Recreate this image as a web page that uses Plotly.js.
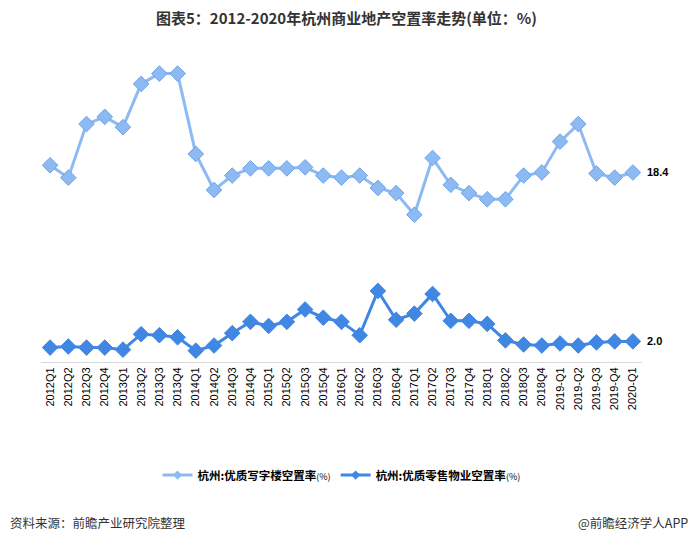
<!DOCTYPE html>
<html>
<head>
<meta charset="utf-8">
<script src="https://cdn.plot.ly/plotly-3.0.1.min.js"></script>
<style>html,body{margin:0;padding:0;background:#fff;}#chart{width:693px;height:546px;}</style>
</head>
<body>
<div id="chart"></div>
<script>
var quarters = ["2012Q1","2012Q2","2012Q3","2012Q4","2013Q1","2013Q2","2013Q3","2013Q4",
  "2014Q1","2014Q2","2014Q3","2014Q4","2015Q1","2015Q2","2015Q3","2015Q4",
  "2016Q1","2016Q2","2016Q3","2016Q4","2017Q1","2017Q2","2017Q3","2017Q4",
  "2018Q1","2018Q2","2018Q3","2018Q4","2019-Q1","2019-Q2","2019-Q3","2019-Q4","2020-Q1"];
var officeVacancy = [19.1,17.9,23.1,23.8,22.8,27.0,28.0,28.0,
  20.2,16.7,18.1,18.8,18.8,18.8,18.9,18.1,
  17.9,18.1,16.9,16.4,14.3,19.8,17.2,16.4,
  15.8,15.8,18.1,18.4,21.4,23.1,18.3,17.9,18.4];
var retailVacancy = [1.4,1.5,1.4,1.4,1.2,2.7,2.6,2.4,
  1.1,1.6,2.8,3.9,3.5,3.9,5.1,4.3,
  3.9,2.6,6.9,4.1,4.7,6.6,4.0,4.0,
  3.7,2.1,1.7,1.6,1.8,1.6,1.9,2.0,2.0];
var officeName = "杭州:优质写字楼空置率<span style='font-weight:normal;font-size:9px'>(%)</span>";
var retailName = "杭州:优质零售物业空置率<span style='font-weight:normal;font-size:9px'>(%)</span>";
var officeColor = "#8DBAF2", retailColor = "#3F87E2";

var lastIdx = quarters.length - 1;
var traces = [
  {x: quarters, y: officeVacancy, type: "scatter", mode: "lines+markers", name: officeName, showlegend: false,
   line: {color: officeColor, width: 3},
   marker: {symbol: "diamond", size: 12, color: officeColor, line: {color: "#6FA4E8", width: 1}}},
  {x: quarters, y: retailVacancy, type: "scatter", mode: "lines+markers", name: retailName, showlegend: false,
   line: {color: retailColor, width: 3},
   marker: {symbol: "diamond", size: 12, color: retailColor, line: {color: retailColor, width: 1}}},
  // legend entries (smaller symbols, as in the reference legend)
  {x: [null], y: [null], type: "scatter", mode: "lines+markers", name: officeName,
   line: {color: officeColor, width: 3}, marker: {symbol: "diamond", size: 7, color: officeColor}},
  {x: [null], y: [null], type: "scatter", mode: "lines+markers", name: retailName,
   line: {color: retailColor, width: 3}, marker: {symbol: "diamond", size: 7, color: retailColor}}
];

var layout = {
  width: 693, height: 546,
  margin: {l: 41, r: 51, t: 53, b: 184},
  paper_bgcolor: "#fff", plot_bgcolor: "#fff",
  font: {family: "'Noto Sans CJK SC', 'Liberation Sans', sans-serif", color: "#000"},
  title: {text: "<b>图表5：2012-2020年杭州商业地产空置率走势(单位：%)</b>",
          font: {size: 15, color: "#333", family: "'Noto Sans CJK SC', 'Liberation Sans', sans-serif"},
          x: 0.5, xanchor: "center", y: 0.965, yanchor: "middle"},
  xaxis: {type: "category", showgrid: false, showline: true, linecolor: "#d9d9d9", linewidth: 1,
          ticks: "", tickangle: -90, tickfont: {size: 11, color: "#000", family: "'Liberation Sans', Arial, sans-serif"},
          range: [-0.5, 32.5], fixedrange: true},
  yaxis: {range: [0, 30], visible: false, showgrid: false, zeroline: false},
  showlegend: true,
  legend: {orientation: "h", x: 0.5, xanchor: "center", y: -0.366, yanchor: "middle",
           font: {size: 11.5, color: "#000", family: "'Noto Sans CJK SC', sans-serif", weight: "bold"},
           itemwidth: 30, traceorder: "normal"},
  annotations: [
    {x: quarters[lastIdx], y: officeVacancy[lastIdx], xref: "x", yref: "y", text: "<b>" + officeVacancy[lastIdx].toFixed(1) + "</b>",
     showarrow: false, xanchor: "left", xshift: 12, font: {size: 11, color: "#000", family: "'Liberation Sans', Arial, sans-serif"}},
    {x: quarters[lastIdx], y: retailVacancy[lastIdx], xref: "x", yref: "y", text: "<b>" + retailVacancy[lastIdx].toFixed(1) + "</b>",
     showarrow: false, xanchor: "left", xshift: 12, font: {size: 11, color: "#000", family: "'Liberation Sans', Arial, sans-serif"}},
    {x: -0.055, y: -0.521, xref: "paper", yref: "paper", xanchor: "left", yanchor: "middle", showarrow: false,
     text: "资料来源：前瞻产业研究院整理", font: {size: 12.5, color: "#333"}},
    {x: 1.08, y: -0.521, xref: "paper", yref: "paper", xanchor: "right", yanchor: "middle", showarrow: false,
     text: "@前瞻经济学人APP", font: {size: 12.5, color: "#333"}}
  ]
};
Plotly.newPlot("chart", traces, layout, {displayModeBar: false, staticPlot: true});
</script>
</body>
</html>
